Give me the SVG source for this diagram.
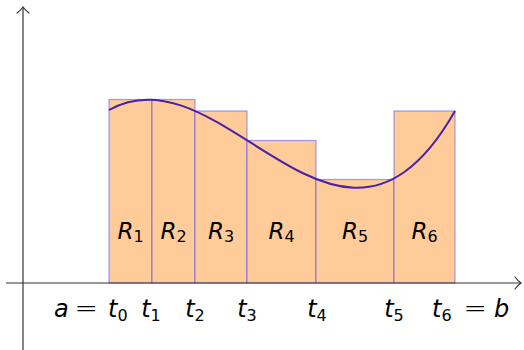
<svg xmlns="http://www.w3.org/2000/svg" width="524" height="350" viewBox="0 0 524 350">
<style>
.ax{stroke:#333;stroke-width:1.2;fill:none}
.head{stroke:#333;stroke-width:1.2;fill:none;stroke-linecap:round}
.rect rect{fill:#ffcc99;stroke:#3333ff;stroke-opacity:0.45;stroke-width:1.2}
.curve{fill:none;stroke:#4a22a8;stroke-width:2}
.lbl{font-family:"DejaVu Sans",sans-serif;font-style:italic;font-size:23px;fill:#000}
.sub{font-style:normal;font-size:16px}
.tl{font-family:"DejaVu Sans",sans-serif;font-size:24px;fill:#000}
.eq{font-size:28px;font-weight:300}
.it{font-style:italic}
</style>
<g id="rects" class="rect">
<g id="R1"><rect x="109" y="99.5" width="43" height="183.5"/></g>
<g id="R2"><rect x="152" y="99.5" width="43" height="183.5"/></g>
<g id="R3"><rect x="195" y="111" width="52" height="172"/></g>
<g id="R4"><rect x="247" y="140.5" width="69" height="142.5"/></g>
<g id="R5"><rect x="316" y="179.5" width="78" height="103.5"/></g>
<g id="R6"><rect x="394" y="111" width="61" height="172"/></g>
</g>
<g id="axes">
<line class="ax" x1="6" y1="283" x2="521" y2="283"/>
<path class="head" d="M515,277 Q518,281 521,283 Q518,285 515,289"/>
<line class="ax" x1="23" y1="350" x2="23" y2="7"/>
<path class="head" d="M17,13 Q21,10 23,7 Q25,10 29,13"/>
</g>
<g id="connectors">
<path class="curve" d="M109,110 C224.33,45.2 339.67,312.97 455,111"/>
</g>
<g id="rlabels">
<text class="lbl" x="130.5" y="239" text-anchor="middle">R<tspan class="sub" dy="3">1</tspan></text>
<text class="lbl" x="173.5" y="239" text-anchor="middle">R<tspan class="sub" dy="3">2</tspan></text>
<text class="lbl" x="221" y="239" text-anchor="middle">R<tspan class="sub" dy="3">3</tspan></text>
<text class="lbl" x="281.5" y="239" text-anchor="middle">R<tspan class="sub" dy="3">4</tspan></text>
<text class="lbl" x="355" y="239" text-anchor="middle">R<tspan class="sub" dy="3">5</tspan></text>
<text class="lbl" x="424.5" y="239" text-anchor="middle">R<tspan class="sub" dy="3">6</tspan></text>
</g>
<g id="tlabels">
<text class="tl" y="317"><tspan class="it" x="54">a</tspan><tspan class="eq" x="74.5">=</tspan><tspan class="it" x="108">t</tspan><tspan class="sub" dy="4">0</tspan></text>
<text class="tl" x="151" y="317" text-anchor="middle"><tspan class="it">t</tspan><tspan class="sub" dy="4">1</tspan></text>
<text class="tl" x="195" y="317" text-anchor="middle"><tspan class="it">t</tspan><tspan class="sub" dy="4">2</tspan></text>
<text class="tl" x="247" y="317" text-anchor="middle"><tspan class="it">t</tspan><tspan class="sub" dy="4">3</tspan></text>
<text class="tl" x="317" y="317" text-anchor="middle"><tspan class="it">t</tspan><tspan class="sub" dy="4">4</tspan></text>
<text class="tl" x="394" y="317" text-anchor="middle"><tspan class="it">t</tspan><tspan class="sub" dy="4">5</tspan></text>
<text class="tl" y="317"><tspan class="it" x="432">t</tspan><tspan class="sub" dy="4">6</tspan><tspan class="eq" x="463.5" dy="-4">=</tspan><tspan class="it" x="494">b</tspan></text>
</g>
</svg>
